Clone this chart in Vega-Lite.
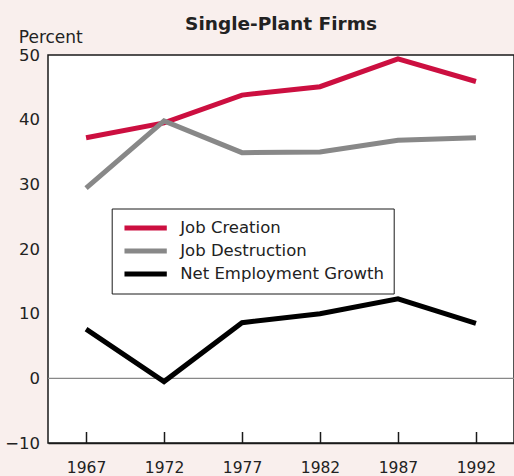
{
  "$schema": "https://vega.github.io/schema/vega-lite/v6.json",
  "autosize": {"type": "none"},
  "width": 466,
  "height": 388,
  "padding": {"left": 48, "top": 55, "right": 0, "bottom": 33},
  "background": "#f9efed",
  "config": {
    "font": "DejaVu Sans",
    "view": {"fill": "white", "stroke": "#1a1a1a", "strokeWidth": 1.5}
  },
  "title": {"text": "Single-Plant Firms", "fontSize": 18.5, "fontWeight": "bold", "color": "#222", "offset": -20, "baseline": "alphabetic", "anchor": "middle"},
  "data": {"values": [
    {"year": 1967, "series": "Job Creation", "value": 37.2},
    {"year": 1972, "series": "Job Creation", "value": 39.5},
    {"year": 1977, "series": "Job Creation", "value": 43.8},
    {"year": 1982, "series": "Job Creation", "value": 45.1},
    {"year": 1987, "series": "Job Creation", "value": 49.4},
    {"year": 1992, "series": "Job Creation", "value": 45.9},
    {"year": 1967, "series": "Job Destruction", "value": 29.4},
    {"year": 1972, "series": "Job Destruction", "value": 39.8},
    {"year": 1977, "series": "Job Destruction", "value": 34.9},
    {"year": 1982, "series": "Job Destruction", "value": 35.0},
    {"year": 1987, "series": "Job Destruction", "value": 36.8},
    {"year": 1992, "series": "Job Destruction", "value": 37.2},
    {"year": 1967, "series": "Net Employment Growth", "value": 7.6},
    {"year": 1972, "series": "Net Employment Growth", "value": -0.5},
    {"year": 1977, "series": "Net Employment Growth", "value": 8.6},
    {"year": 1982, "series": "Net Employment Growth", "value": 10.0},
    {"year": 1987, "series": "Net Employment Growth", "value": 12.3},
    {"year": 1992, "series": "Net Employment Growth", "value": 8.5}
  ]},
  "layer": [
    {
      "data": {"values": [{"z": 0}]},
      "mark": {"type": "rule", "color": "#888", "strokeWidth": 1.2},
      "encoding": {"y": {"field": "z", "type": "quantitative", "scale": {"domain": [-10, 50]}}}
    },
    {
      "mark": {"type": "line", "strokeWidth": 5, "strokeJoin": "miter"},
      "encoding": {
        "x": {"field": "year", "type": "quantitative",
          "scale": {"domain": [1964.56, 1994.44], "nice": false, "zero": false},
          "axis": {"values": [1967, 1972, 1977, 1982, 1987, 1992], "format": "d", "title": null, "grid": false,
            "domain": true, "domainColor": "#1a1a1a", "domainWidth": 1.5, "tickColor": "#1a1a1a", "tickWidth": 1.5, "tickSize": -11.5,
            "labelFontSize": 15.5, "labelColor": "#222", "labelPadding": 29}},
        "y": {"field": "value", "type": "quantitative",
          "scale": {"domain": [-10, 50], "nice": false},
          "axis": {"values": [-10, 0, 10, 20, 30, 40, 50], "grid": false, "ticks": false, "domain": false,
            "labelFontSize": 16.5, "labelColor": "#222", "labelPadding": 8.5,
            "title": "Percent", "titleAngle": 0, "titleAlign": "left", "titleBaseline": "alphabetic",
            "titleX": -29.7, "titleY": -13, "titleFontSize": 17, "titleFontWeight": "normal", "titleColor": "#222"}},
        "color": {"field": "series", "type": "nominal",
          "scale": {"domain": ["Job Creation", "Job Destruction", "Net Employment Growth"], "range": ["#cc0f40", "#888888", "#000000"]},
          "legend": {"title": null, "orient": "none", "legendX": 63.7, "legendY": 153.5,
            "symbolType": "M-0.84,0H4.45", "symbolStrokeWidth": 5, "symbolSize": 256, "symbolFillColor": "transparent",
            "labelFontSize": 16.5, "labelColor": "#222", "labelOffset": 38.5, "labelLimit": 400,
            "rowPadding": 2, "padding": 9, "strokeColor": "#1a1a1a", "fillColor": "white"}}
      }
    }
  ]
}
